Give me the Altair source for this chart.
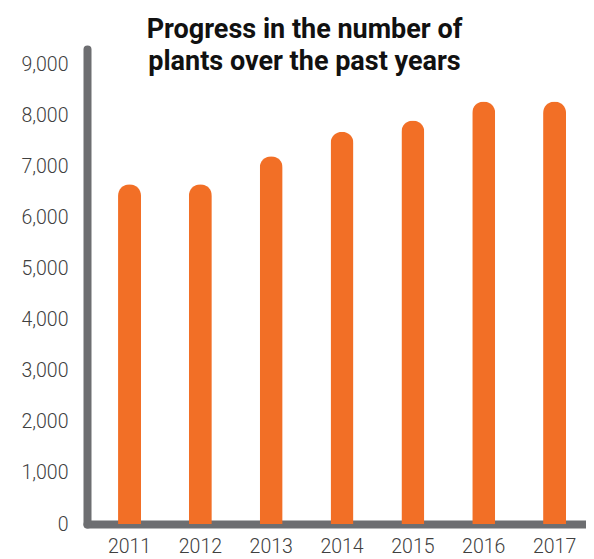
import altair as alt
import pandas as pd

years = ["2011", "2012", "2013", "2014", "2015", "2016", "2017"]
plants = [6650, 6650, 7200, 7680, 7900, 8270, 8270]
y_ticks = [0, 1000, 2000, 3000, 4000, 5000, 6000, 7000, 8000, 9000]

df = pd.DataFrame({"year": years, "plants": plants})

AXIS_GRAY = "#6d6e71"
ORANGE = "#f26f26"
LABEL = "#404040"

chart = alt.Chart(df).mark_bar(
    color=ORANGE, size=23, cornerRadiusTopLeft=11.5, cornerRadiusTopRight=11.5
).encode(
    x=alt.X("year:N", sort=years,
            scale=alt.Scale(paddingInner=0.5, paddingOuter=0.272, align=0.644),
            axis=alt.Axis(title=None, labelAngle=0, ticks=False, tickSize=0,
                          domainColor=AXIS_GRAY, domainWidth=8, domainCap="round",
                          labelFont="Roboto", labelFontSize=19.5, labelFontWeight=300,
                          labelColor=LABEL, labelPadding=13)),
    y=alt.Y("plants:Q", scale=alt.Scale(domain=[0, 9300], nice=False),
            axis=alt.Axis(title=None, values=y_ticks, format=",.0f", grid=False,
                          ticks=False, tickSize=0,
                          domainColor=AXIS_GRAY, domainWidth=8, domainCap="round",
                          labelFont="Roboto", labelFontSize=19.5, labelFontWeight=300,
                          labelColor=LABEL, labelPadding=19)),
).properties(
    width=499,
    height=475,
    autosize=alt.AutoSizeParams(type="none"),
    padding={"left": 79, "top": 41, "right": 0, "bottom": 35},
    title=alt.TitleParams(
        text=["Progress in the number of", "plants over the past years"],
        font="Roboto", fontSize=27, fontWeight="bold", color="#111111",
        anchor="middle", dx=-32, offset=-27, lineHeight=32,
    ),
).configure_view(stroke=None)

chart.save("out.html", embed_options={"renderer": "svg", "actions": False})
